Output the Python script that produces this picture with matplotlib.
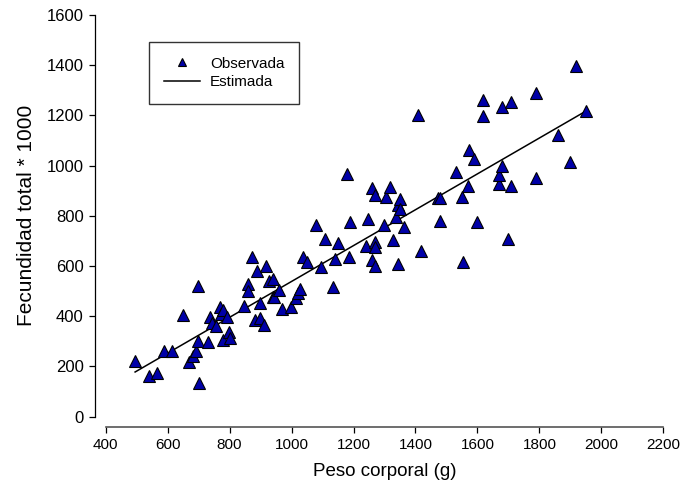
import numpy as np
import matplotlib
matplotlib.use('Agg')
import matplotlib.pyplot as plt

plt.rcParams['font.family'] = ['Liberation Sans', 'DejaVu Sans']

peso = [495, 540, 565, 588, 615, 648, 669, 681, 692, 698, 698, 702, 730, 737,
        744, 757, 769, 772, 780, 778, 791, 799, 801, 846, 858, 858, 873, 887,
        882, 898, 898, 912, 917, 926, 940, 941, 943, 959, 968, 998, 1014, 1020,
        1027, 1038, 1049, 1079, 1094, 1109, 1133, 1140, 1149, 1179, 1184, 1189,
        1240, 1248, 1259, 1259, 1269, 1269, 1269, 1269, 1298, 1304, 1319, 1328,
        1337, 1344, 1344, 1350, 1350, 1364, 1409, 1419, 1474, 1479, 1479, 1530,
        1549, 1553, 1568, 1574, 1589, 1600, 1619, 1619, 1668, 1669, 1678, 1679,
        1699, 1708, 1708, 1789, 1789, 1859, 1899, 1918, 1949]
fecundidad = [223, 161, 175, 263, 260, 405, 219, 243, 263, 301, 522, 133, 299,
              398, 374, 361, 438, 409, 425, 305, 398, 339, 312, 442, 528, 502,
              637, 581, 385, 454, 392, 365, 600, 542, 548, 478, 475, 505, 429,
              436, 472, 491, 508, 635, 615, 763, 597, 706, 515, 627, 690, 967,
              636, 774, 680, 787, 912, 624, 884, 697, 675, 601, 765, 874, 915,
              704, 797, 843, 609, 866, 826, 755, 1203, 661, 870, 871, 781, 975,
              874, 616, 919, 1062, 1026, 775, 1261, 1197, 927, 963, 1232, 1000,
              708, 1252, 919, 1288, 949, 1122, 1013, 1397, 1217]

# estimated line end points
est_x = [495, 1950]
est_y = [178, 1217]

fig = plt.figure(figsize=(6.84, 4.96), dpi=100)
ax = fig.add_axes([0.1545, 0.1599, 0.8153, 0.81])

ax.plot(peso, fecundidad, linestyle='none', marker='^', markersize=8,
        markerfacecolor='#0000a8', markeredgecolor='black', markeredgewidth=0.8,
        label='Observada', zorder=3)
ax.plot(est_x, est_y, color='black', linewidth=1.1, label='Estimada', zorder=2)

ax.set_xlim(400, 2200)
ax.set_ylim(0, 1600)
ax.set_xticks(np.arange(400, 2201, 200))
ax.set_yticks(np.arange(0, 1601, 200))

for s in ['top', 'right']:
    ax.spines[s].set_visible(False)
ax.spines['left'].set_position(('outward', 7.7))
ax.spines['bottom'].set_position(('outward', 7.2))
ax.spines['bottom'].set_color('#555555')
ax.spines['bottom'].set_linewidth(1.2)
ax.spines['left'].set_linewidth(0.9)
ax.tick_params(direction='out', length=4, width=0.9, colors='black', pad=4)
ax.tick_params(axis='x', labelsize=11)
ax.tick_params(axis='y', labelsize=12)

ax.set_xlabel('Peso corporal (g)', fontsize=13.5, labelpad=8)
ax.set_ylabel('Fecundidad total * 1000', fontsize=15, labelpad=8)

leg = ax.legend(loc='upper left', bbox_to_anchor=(149 / 684, 1 - 42 / 496),
                bbox_transform=fig.transFigure, fontsize=11, frameon=True,
                fancybox=False, edgecolor='black', borderaxespad=0,
                handlelength=2.4, handletextpad=0.65, borderpad=0.95,
                labelspacing=0.3, markerscale=0.75)
leg.get_frame().set_linewidth(1.0)

fig.savefig('out.png', dpi=100)
